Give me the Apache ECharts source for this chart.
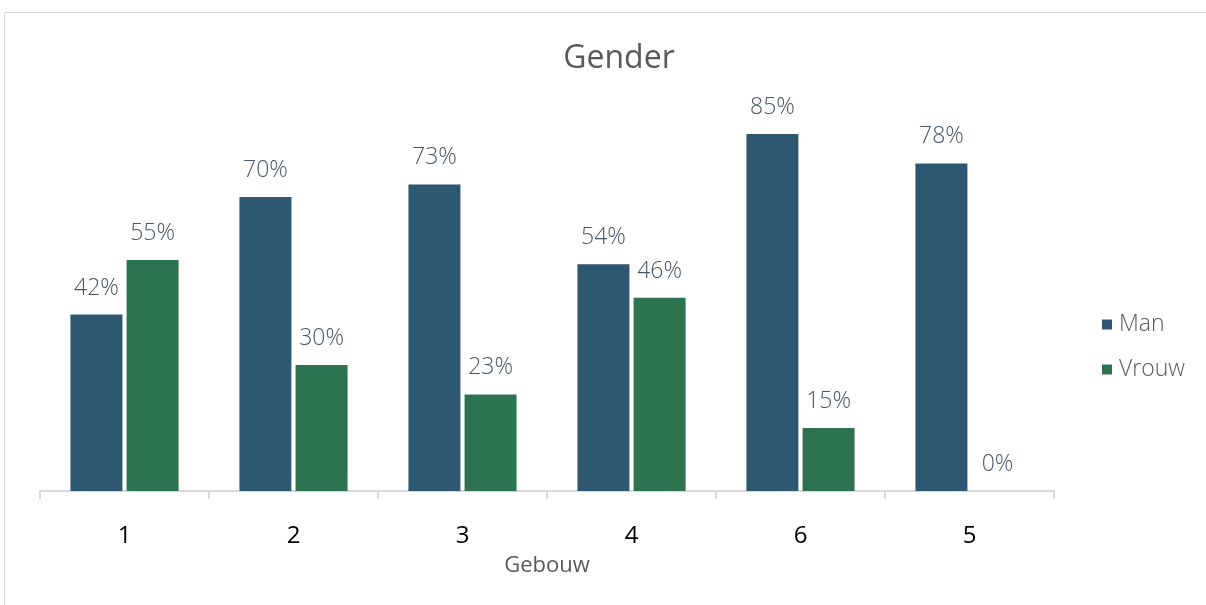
<!DOCTYPE html>
<html><head><meta charset="utf-8">
<script src="https://cdn.jsdelivr.net/npm/echarts@6/dist/echarts.min.js"></script>
<style>html,body{margin:0;padding:0;background:#fff}#c{width:1206px;height:605px}</style>
</head><body><div id="c"></div>
<script>
const categories = ['1','2','3','4','6','5'];
const manValues = [42,70,73,54,85,78];
const vrouwValues = [55,30,23,46,15,0];
const seriesNames = ['Man','Vrouw'];

const chart = echarts.init(document.getElementById('c'));
const lbl = {show:true, position:'top', distance:15, formatter:p=>p.value+'%', color:'#44546A', fontSize:23, fontWeight:300, fontFamily:'Open Sans'};
chart.setOption({
  animation:false,
  graphic:[{type:'rect', shape:{x:4.5,y:12.5,width:1400,height:800}, style:{fill:'none', stroke:'#d9d9d9', lineWidth:1}}],
  title:{text:'Gender', left:614, top:38, textAlign:'center', textStyle:{color:'#595959', fontSize:32, fontWeight:'normal', fontFamily:'Open Sans'}},
  legend:{orient:'vertical', left:1097, top:308, itemWidth:10, itemHeight:10, itemGap:22, icon:'rect',
    textStyle:{color:'#595959', fontSize:23, fontWeight:300, fontFamily:'Open Sans', padding:[0,0,0,2]}},
  grid:{left:40, right:152, top:71, bottom:114},
  xAxis:{type:'category', data:categories, name:'Gebouw', nameLocation:'middle', nameGap:64,
    nameTextStyle:{color:'#595959', fontSize:22, fontFamily:'Open Sans'},
    axisLine:{lineStyle:{color:'#d9d9d9', width:2}}, axisTick:{show:true, length:8, lineStyle:{color:'#d9d9d9', width:2}},
    axisLabel:{color:'#000', fontSize:24, fontFamily:'Open Sans', margin:33}},
  yAxis:{type:'value', min:0, max:100, show:false, splitLine:{show:false}},
  series:[
    {name:seriesNames[0], type:'bar', data:manValues, barWidth:52, barGap:'8%', itemStyle:{color:'#2E5871'}, label:lbl},
    {name:seriesNames[1], type:'bar', data:vrouwValues, barWidth:52, itemStyle:{color:'#2E734F'}, label:lbl}
  ]
});
</script></body></html>
